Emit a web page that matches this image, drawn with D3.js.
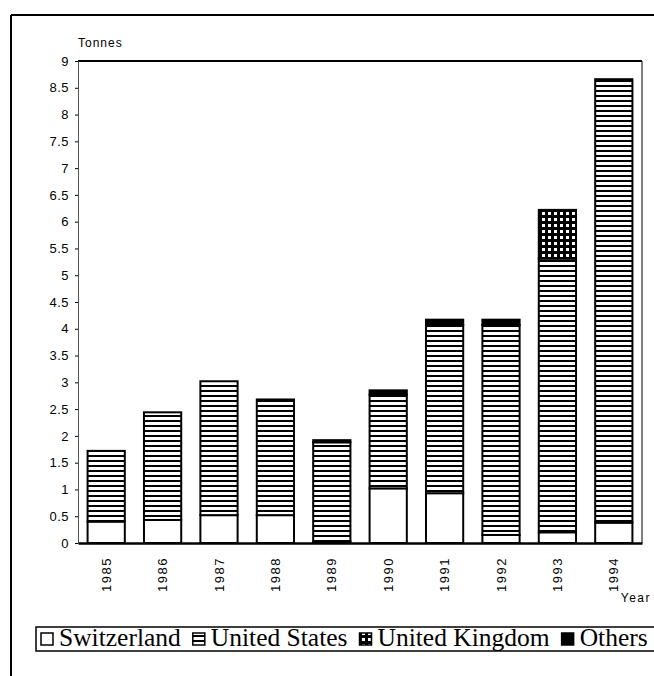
<!DOCTYPE html>
<html><head><meta charset="utf-8">
<script src="https://cdn.jsdelivr.net/npm/d3@7"></script>
<style>body{margin:0;background:#fff}</style>
</head><body>
<svg id="chart" width="654" height="676"></svg>
<script>
const years = ["1985","1986","1987","1988","1989","1990","1991","1992","1993","1994"];
const switzerland   = [0.40, 0.43, 0.52, 0.52, 0.03, 1.02, 0.93, 0.15, 0.20, 0.38];
const unitedStates  = [1.32, 2.01, 2.50, 2.16, 1.85, 1.75, 3.14, 3.92, 5.11, 8.28];
const unitedKingdom = [0, 0, 0, 0, 0, 0, 0, 0, 0.91, 0];
const others        = [0, 0, 0, 0, 0.04, 0.08, 0.10, 0.10, 0, 0];
const seriesNames = ["Switzerland", "United States", "United Kingdom", "Others"];
const yTicks = [0,0.5,1,1.5,2,2.5,3,3.5,4,4.5,5,5.5,6,6.5,7,7.5,8,8.5,9];
const yLabel = "Tonnes";
const xLabel = "Year";

const svg = d3.select("#chart");
const L = 78, R = 642, T = 61, B = 543;

const rows = years.map((yr, i) => ({
  year: yr,
  "Switzerland": switzerland[i],
  "United States": unitedStates[i],
  "United Kingdom": unitedKingdom[i],
  "Others": others[i]
}));
const stacked = d3.stack().keys(seriesNames)(rows);

const x = d3.scaleBand().domain(years).range([L, R]).paddingInner(0.34).paddingOuter(0.17);
const y = d3.scaleLinear().domain([0, 9]).range([B, T]);

// patterns
const defs = svg.append("defs");
const pUS = defs.append("pattern").attr("id","pUS").attr("patternUnits","userSpaceOnUse")
  .attr("width",6).attr("height",5);
pUS.append("rect").attr("width",6).attr("height",5).attr("fill","#fff");
pUS.append("rect").attr("width",6).attr("height",2).attr("fill","#000");
const pUK = defs.append("pattern").attr("id","pUK").attr("patternUnits","userSpaceOnUse")
  .attr("width",6).attr("height",6);
pUK.append("rect").attr("width",6).attr("height",6).attr("fill","#000");
pUK.append("rect").attr("x",2).attr("y",2).attr("width",3).attr("height",3).attr("fill","#fff");
const fills = {"Switzerland":"#fff","United States":"url(#pUS)","United Kingdom":"url(#pUK)","Others":"#000"};

// outer frame
svg.append("line").attr("x1",11).attr("x2",654).attr("y1",15).attr("y2",15).attr("stroke","#000").attr("stroke-width",2);
svg.append("line").attr("x1",11).attr("x2",11).attr("y1",15).attr("y2",676).attr("stroke","#000").attr("stroke-width",2);

// plot frame top & right
svg.append("line").attr("x1",L).attr("x2",R).attr("y1",T).attr("y2",T).attr("stroke","#000").attr("stroke-width",2);
svg.append("line").attr("x1",R).attr("x2",R).attr("y1",T).attr("y2",B).attr("stroke","#000").attr("stroke-width",1);

// bars
svg.append("g").selectAll("g").data(stacked).join("g")
  .attr("fill", d => fills[d.key])
  .selectAll("rect").data(d => d.filter(s => s[1] - s[0] > 0)).join("rect")
  .attr("x", d => x(d.data.year))
  .attr("width", x.bandwidth())
  .attr("y", d => y(d[1]))
  .attr("height", d => y(d[0]) - y(d[1]))
  .attr("stroke","#000").attr("stroke-width",2);

// y axis
const yAxis = svg.append("g").attr("transform",`translate(${L},0)`)
  .call(d3.axisLeft(y).tickValues(yTicks).tickFormat(d => String(d)).tickSize(3).tickPadding(6));
yAxis.select(".domain").attr("stroke","#555").attr("stroke-width",1);
yAxis.selectAll("text").attr("font-family","Liberation Sans, Arial, sans-serif").attr("font-size",13)
  .attr("letter-spacing","0.5px").attr("fill","#000");

// x axis
const xAxis = svg.append("g").attr("transform",`translate(0,${B})`)
  .call(d3.axisBottom(x).tickSize(0));
xAxis.select(".domain").attr("stroke","#000").attr("stroke-width",2.5);
xAxis.selectAll("text").attr("font-family","Liberation Sans, Arial, sans-serif").attr("font-size",13)
  .attr("letter-spacing","1.5px").attr("fill","#000")
  .attr("transform","rotate(-90)").attr("text-anchor","end")
  .attr("x",-14).attr("y",0).attr("dy","0.35em");

// axis titles
svg.append("text").attr("x",L).attr("y",47).text(yLabel)
  .attr("font-family","Liberation Sans, Arial, sans-serif").attr("font-size",12).attr("letter-spacing","1px");
svg.append("text").attr("x",651).attr("y",602).attr("text-anchor","end").text(xLabel)
  .attr("font-family","Liberation Sans, Arial, sans-serif").attr("font-size",12).attr("letter-spacing","1.5px");

// legend
const lg = svg.append("g");
lg.append("rect").attr("x",36).attr("y",627).attr("width",640).attr("height",24)
  .attr("fill","none").attr("stroke","#000").attr("stroke-width",1.5);
let cx = 41;
seriesNames.forEach(name => {
  const g = lg.append("g");
  g.append("rect").attr("x",cx).attr("y",633).attr("width",12).attr("height",12)
    .attr("fill", fills[name]).attr("stroke","#000").attr("stroke-width",1.5);
  const t = g.append("text").attr("x",cx+18).attr("y",646).text(name)
    .attr("font-family","Liberation Serif, Times New Roman, serif").attr("font-size",25.5);
  cx += 18 + t.node().getComputedTextLength() + 12;
});
</script>
</body></html>
